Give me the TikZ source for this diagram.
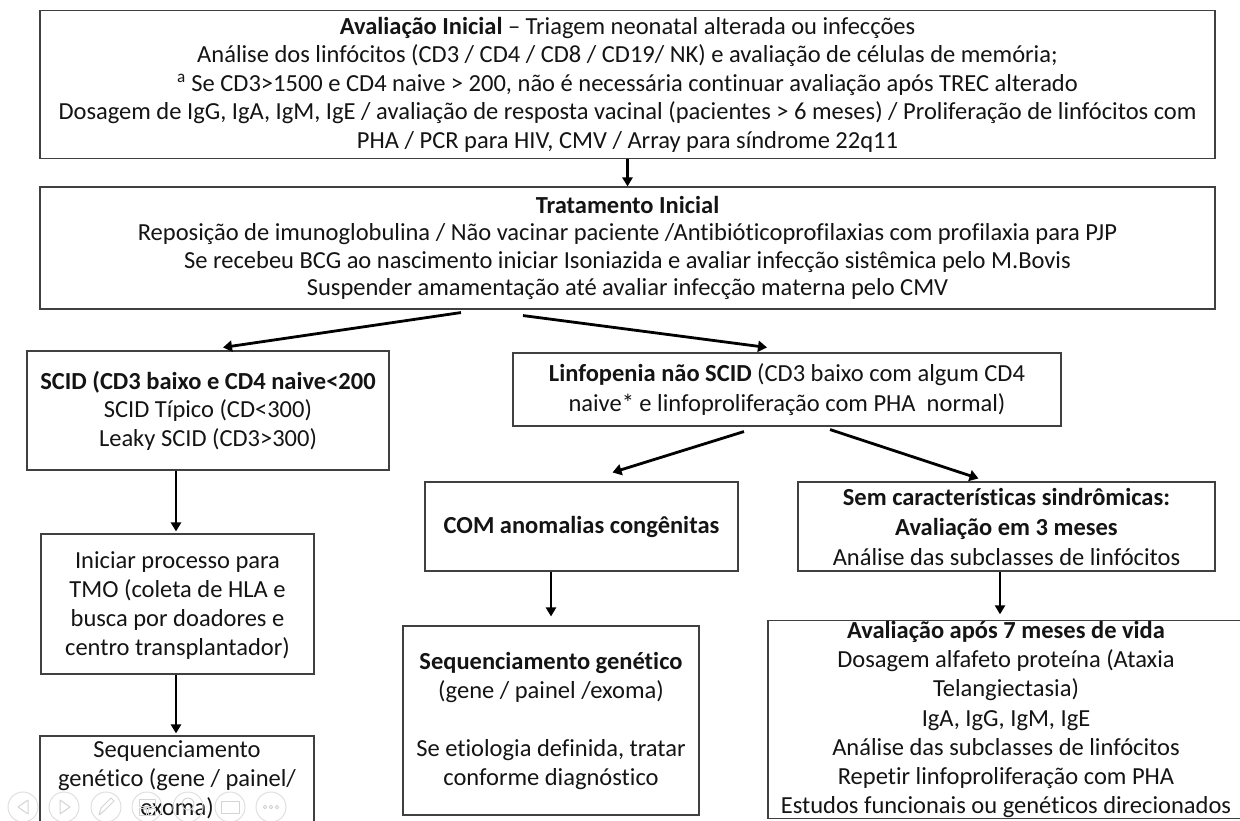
\documentclass[tikz,border=0pt]{standalone}
\usepackage{fontspec}
\setmainfont[Ligatures=NoCommon]{Carlito}
\usetikzlibrary{arrows.meta,calc}
\tikzset{
  x=1pt,y=-1pt,
  box/.style={draw=black!75,line width=1.1pt,fill=white,align=center,inner sep=0pt,text=black!92,font=\fontsize{24.5}{#1}\selectfont},
  box/.default=27.5,
  arr/.style={draw=black,line width=2.8pt,-{Triangle[length=9pt,width=11pt]}},
  varr/.style={draw=black,line width=2.3pt,-{Triangle[length=9pt,width=10pt]}},
  tool/.style={draw=black!12,line width=1pt},
  toolin/.style={draw=black!17,line width=1pt,line join=round}
}
\begin{document}
\begin{tikzpicture}
\useasboundingbox (0,0) rectangle (1240,820);
\clip (0,0) rectangle (1240,820);
\fill[white] (0,0) rectangle (1240,820);

\node[box=28.5,minimum width=1175pt,minimum height=148pt] (aval) at (627.5,84.5) {\textbf{Avaliação Inicial} – Triagem neonatal alterada ou infecções\\
Análise dos linfócitos (CD3 / CD4 / CD8 / CD19/ NK) e avaliação de células de memória;\\
{\textsuperscript{a}} Se CD3>1500 e CD4 naive > 200, não é necessária continuar avaliação após TREC alterado\\
Dosagem de IgG, IgA, IgM, IgE / avaliação de resposta vacinal (pacientes > 6 meses) / Proliferação de linfócitos com\\
PHA / PCR para HIV, CMV / Array para síndrome 22q11};

\node[box,minimum width=1175pt,minimum height=122pt] (trat) at (627.5,248) {\textbf{Tratamento Inicial}\\
Reposição de imunoglobulina / Não vacinar paciente /Antibióticoprofilaxias com profilaxia para PJP\\
Se recebeu BCG ao nascimento iniciar Isoniazida e avaliar infecção sistêmica pelo M.Bovis\\
Suspender amamentação até avaliar infecção materna pelo CMV};

\node[box=28.5,minimum width=362pt,minimum height=119pt] (scid) at (208,410.5) {\textbf{SCID (CD3 baixo e CD4 naive<200}\\SCID Típico (CD<300)\\Leaky SCID (CD3>300)};

\node[box=30,minimum width=548pt,minimum height=73pt] (linf) at (787,389.5) {\textbf{Linfopenia não SCID} (CD3 baixo com algum CD4\\naive* e linfoproliferação com PHA\ \ normal)};

\node[box,minimum width=313pt,minimum height=89pt] (com) at (581.5,526.5) {\textbf{COM anomalias congênitas}};

\node[box=30,minimum width=417pt,minimum height=89pt] (sem) at (1006.5,526.5) {\textbf{Sem características sindrômicas:}\\\textbf{Avaliação em 3 meses}\\Análise das subclasses de linfócitos};

\node[box=29.3,minimum width=273pt,minimum height=140pt] (tmo) at (177.5,604) {\rule{0pt}{20pt}Iniciar processo para\\TMO (coleta de HLA e\\busca por doadores e\\centro transplantador)};

\node[box=29,minimum width=274pt,minimum height=88pt] (seqa) at (177,780) {Sequenciamento\\genético (gene / painel/\\exoma)};

\node[box=29,minimum width=296pt,minimum height=189pt] (seqb) at (551,720.5) {\textbf{Sequenciamento genético}\\(gene / painel /exoma)\\[29pt]Se etiologia definida, tratar\\conforme diagnóstico};

\node[box=29.3,minimum width=476pt,minimum height=197pt] (aval7) at (1006,719.5) {\textbf{Avaliação após 7 meses de vida}\\Dosagem alfafeto proteína (Ataxia\\Telangiectasia)\\IgA, IgG, IgM, IgE\\Análise das subclasses de linfócitos\\Repetir linfoproliferação com PHA\\Estudos funcionais ou genéticos direcionados};

\draw[varr] (aval.south) -- (trat.north);
\draw[arr] ([xshift=-166.5pt,yshift=-3pt]trat.south) -- ([xshift=15pt,yshift=3pt]scid.north);
\draw[arr] ([xshift=-104.5pt,yshift=-6pt]trat.south) -- ([xshift=-20pt,yshift=5pt]linf.north);
\draw[varr] (scid.south -| 176,0) -- ([yshift=2pt]tmo.north -| 176,0);
\draw[varr] (tmo.south -| 176,0) -- ([yshift=2pt]seqa.north -| 176,0);
\draw[arr] ([xshift=-43pt,yshift=-5pt]linf.south) -- ([xshift=31pt,yshift=9pt]com.north);
\draw[arr] ([xshift=43pt,yshift=-3pt]linf.south) -- ([xshift=-28pt,yshift=3pt]sem.north);
\draw[varr] (com.south -| seqb.north) -- ([yshift=9pt]seqb.north);
\draw[varr] (sem.south -| 1000,0) -- ([yshift=6pt]aval7.north -| 1000,0);

% faint slide-show toolbar
\foreach \cx in {23,64,106,147,188,230,271}{\draw[tool] (\cx,807) circle (15pt);}
\draw[toolin] (28,800) -- (18,807) -- (28,814) -- cycle;
\draw[toolin] (60,800) -- (70,807) -- (60,814) -- cycle;
\draw[toolin] (99,815) -- (101,808) -- (111,798) -- (114,801) -- (104,811) -- cycle;
\draw[toolin] (139,799) rectangle (155,806) (139,808) rectangle (146,815) (148,808) rectangle (155,815);
\draw[toolin] (188,804) circle (6pt) (192,809) -- (196,814);
\draw[toolin] (221,801) rectangle (239,813);
\foreach \dx in {265,271,277}{\draw[toolin] (\dx,807) circle (1.8pt);}
\end{tikzpicture}
\end{document}
